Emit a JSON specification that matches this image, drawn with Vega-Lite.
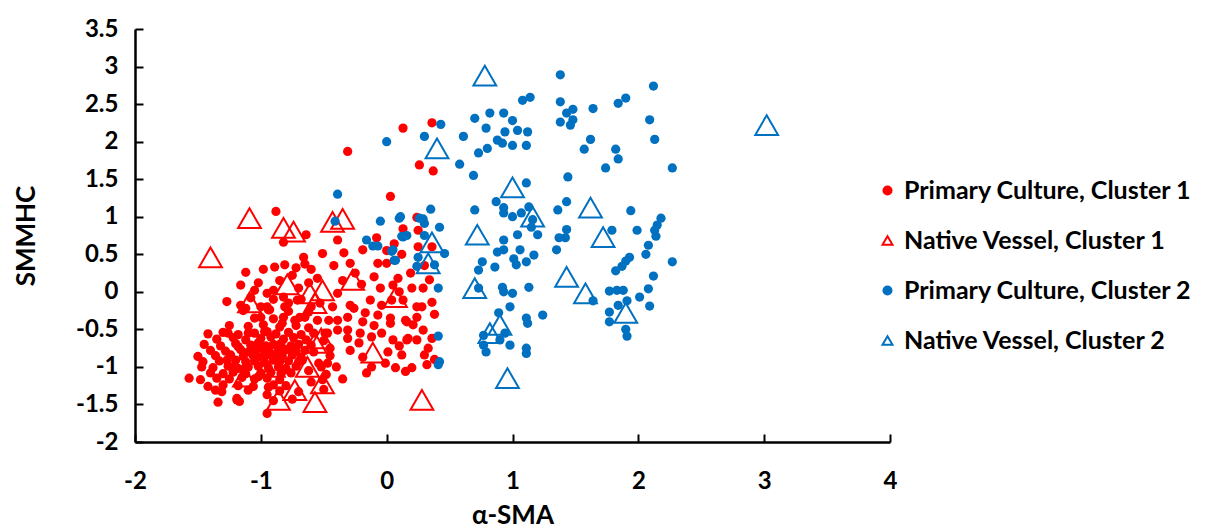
{"$schema":"https://vega.github.io/schema/vega-lite/v6.json","width":755,"height":413,"autosize":{"type":"none"},"padding":{"left":135,"top":29,"right":327,"bottom":87},"background":"white","config":{"view":{"stroke":null},"font":"Lato"},
"data":{"values":[
{"x":-1.25,"y":-0.45,"g":"P1"},{"x":-1.1,"y":-0.46,"g":"P1"},{"x":-0.98,"y":-0.44,"g":"P1"},{"x":-0.85,"y":-0.47,"g":"P1"},{"x":-0.72,"y":-0.45,"g":"P1"},{"x":-0.62,"y":-0.48,"g":"P1"},
{"x":-1.42,"y":-0.56,"g":"P1"},{"x":-1.3,"y":-0.54,"g":"P1"},{"x":-1.18,"y":-0.57,"g":"P1"},{"x":-1.05,"y":-0.55,"g":"P1"},{"x":-0.95,"y":-0.53,"g":"P1"},{"x":-0.88,"y":-0.56,"g":"P1"},{"x":-0.78,"y":-0.54,"g":"P1"},{"x":-0.68,"y":-0.57,"g":"P1"},{"x":-0.58,"y":-0.55,"g":"P1"},
{"x":-1.35,"y":-0.63,"g":"P1"},{"x":-1.22,"y":-0.61,"g":"P1"},{"x":-1.12,"y":-0.64,"g":"P1"},{"x":-1.0,"y":-0.62,"g":"P1"},{"x":-0.92,"y":-0.6,"g":"P1"},{"x":-0.82,"y":-0.63,"g":"P1"},{"x":-0.74,"y":-0.61,"g":"P1"},{"x":-0.64,"y":-0.64,"g":"P1"},
{"x":-1.45,"y":-0.7,"g":"P1"},{"x":-1.32,"y":-0.72,"g":"P1"},{"x":-1.2,"y":-0.69,"g":"P1"},{"x":-1.08,"y":-0.71,"g":"P1"},{"x":-1.02,"y":-0.68,"g":"P1"},{"x":-0.96,"y":-0.72,"g":"P1"},{"x":-0.9,"y":-0.7,"g":"P1"},{"x":-0.84,"y":-0.69,"g":"P1"},{"x":-0.76,"y":-0.72,"g":"P1"},{"x":-0.7,"y":-0.7,"g":"P1"},{"x":-0.6,"y":-0.71,"g":"P1"},
{"x":-1.4,"y":-0.78,"g":"P1"},{"x":-1.28,"y":-0.79,"g":"P1"},{"x":-1.16,"y":-0.77,"g":"P1"},{"x":-1.1,"y":-0.8,"g":"P1"},{"x":-1.04,"y":-0.78,"g":"P1"},{"x":-0.98,"y":-0.76,"g":"P1"},{"x":-0.93,"y":-0.8,"g":"P1"},{"x":-0.86,"y":-0.78,"g":"P1"},{"x":-0.8,"y":-0.77,"g":"P1"},{"x":-0.72,"y":-0.79,"g":"P1"},{"x":-0.65,"y":-0.78,"g":"P1"},
{"x":-1.5,"y":-0.86,"g":"P1"},{"x":-1.36,"y":-0.85,"g":"P1"},{"x":-1.24,"y":-0.84,"g":"P1"},{"x":-1.14,"y":-0.86,"g":"P1"},{"x":-1.06,"y":-0.85,"g":"P1"},{"x":-1.0,"y":-0.87,"g":"P1"},{"x":-0.95,"y":-0.84,"g":"P1"},{"x":-0.88,"y":-0.86,"g":"P1"},{"x":-0.83,"y":-0.85,"g":"P1"},{"x":-0.75,"y":-0.84,"g":"P1"},{"x":-0.68,"y":-0.87,"g":"P1"},
{"x":-1.46,"y":-0.93,"g":"P1"},{"x":-1.33,"y":-0.92,"g":"P1"},{"x":-1.2,"y":-0.91,"g":"P1"},{"x":-1.12,"y":-0.93,"g":"P1"},{"x":-1.05,"y":-0.92,"g":"P1"},{"x":-0.97,"y":-0.94,"g":"P1"},{"x":-0.9,"y":-0.91,"g":"P1"},{"x":-0.85,"y":-0.93,"g":"P1"},{"x":-0.78,"y":-0.92,"g":"P1"},{"x":-0.7,"y":-0.93,"g":"P1"},
{"x":-1.47,"y":-1.0,"g":"P1"},{"x":-1.38,"y":-1.01,"g":"P1"},{"x":-1.26,"y":-0.99,"g":"P1"},{"x":-1.18,"y":-1.02,"g":"P1"},{"x":-1.1,"y":-1.0,"g":"P1"},{"x":-1.02,"y":-0.99,"g":"P1"},{"x":-0.94,"y":-1.01,"g":"P1"},{"x":-0.86,"y":-1.0,"g":"P1"},{"x":-0.8,"y":-1.02,"g":"P1"},{"x":-0.72,"y":-0.99,"g":"P1"},
{"x":-1.4,"y":-1.08,"g":"P1"},{"x":-1.3,"y":-1.09,"g":"P1"},{"x":-1.22,"y":-1.07,"g":"P1"},{"x":-1.12,"y":-1.09,"g":"P1"},{"x":-1.0,"y":-1.08,"g":"P1"},{"x":-0.92,"y":-1.07,"g":"P1"},{"x":-0.84,"y":-1.09,"g":"P1"},{"x":-0.76,"y":-1.08,"g":"P1"},
{"x":-1.57,"y":-1.15,"g":"P1"},{"x":-1.48,"y":-1.17,"g":"P1"},{"x":-1.35,"y":-1.15,"g":"P1"},{"x":-1.25,"y":-1.16,"g":"P1"},{"x":-1.15,"y":-1.14,"g":"P1"},{"x":-1.05,"y":-1.16,"g":"P1"},{"x":-0.95,"y":-1.15,"g":"P1"},{"x":-0.85,"y":-1.17,"g":"P1"},
{"x":-1.42,"y":-1.26,"g":"P1"},{"x":-1.3,"y":-1.24,"g":"P1"},{"x":-1.18,"y":-1.25,"g":"P1"},{"x":-1.06,"y":-1.26,"g":"P1"},{"x":-0.9,"y":-1.24,"g":"P1"},{"x":-0.8,"y":-1.25,"g":"P1"},
{"x":-1.36,"y":-1.31,"g":"P1"},{"x":-1.31,"y":-1.33,"g":"P1"},{"x":-1.1,"y":-1.31,"g":"P1"},{"x":-0.95,"y":-1.37,"g":"P1"},{"x":-0.85,"y":-1.32,"g":"P1"},{"x":-0.7,"y":-1.33,"g":"P1"},
{"x":-1.34,"y":-1.47,"g":"P1"},{"x":-1.19,"y":-1.44,"g":"P1"},{"x":-1.17,"y":-1.46,"g":"P1"},{"x":-0.9,"y":-1.45,"g":"P1"},{"x":-0.75,"y":-1.43,"g":"P1"},{"x":-0.95,"y":-1.62,"g":"P1"},
{"x":-1.05,"y":-0.35,"g":"P1"},{"x":-0.9,"y":-0.36,"g":"P1"},{"x":-0.65,"y":-0.34,"g":"P1"},{"x":-1.14,"y":-0.25,"g":"P1"},{"x":-0.93,"y":-0.24,"g":"P1"},{"x":-0.78,"y":-0.26,"g":"P1"},
{"x":-1.27,"y":-0.13,"g":"P1"},{"x":-1.16,"y":0.09,"g":"P1"},{"x":-1.16,"y":-0.18,"g":"P1"},{"x":-1.12,"y":0.26,"g":"P1"},{"x":-1.02,"y":0.12,"g":"P1"},{"x":-1.05,"y":0.02,"g":"P1"},{"x":-0.95,"y":-0.02,"g":"P1"},{"x":-0.89,"y":0.33,"g":"P1"},{"x":-0.81,"y":0.36,"g":"P1"},{"x":-0.66,"y":0.46,"g":"P1"},{"x":-0.51,"y":0.51,"g":"P1"},{"x":-0.64,"y":0.76,"g":"P1"},{"x":-0.82,"y":0.66,"g":"P1"},{"x":-0.88,"y":1.07,"g":"P1"},{"x":-0.75,"y":0.22,"g":"P1"},{"x":-0.7,"y":0.05,"g":"P1"},{"x":-0.85,"y":0.15,"g":"P1"},{"x":-0.6,"y":0.3,"g":"P1"},{"x":-0.55,"y":0.18,"g":"P1"},{"x":-0.68,"y":-0.1,"g":"P1"},{"x":-0.78,"y":-0.15,"g":"P1"},{"x":-0.9,"y":-0.1,"g":"P1"},{"x":-1.0,"y":-0.2,"g":"P1"},{"x":-0.6,"y":-0.2,"g":"P1"},{"x":-0.72,"y":0.32,"g":"P1"},{"x":-0.62,"y":0.12,"g":"P1"},{"x":-1.08,"y":-0.08,"g":"P1"},{"x":-0.98,"y":0.3,"g":"P1"},
{"x":-0.39,"y":0.69,"g":"P1"},{"x":-0.65,"y":0.37,"g":"P1"},{"x":-0.34,"y":0.52,"g":"P1"},{"x":-0.29,"y":0.38,"g":"P1"},{"x":-0.19,"y":0.56,"g":"P1"},{"x":-0.08,"y":0.72,"g":"P1"},{"x":-0.07,"y":0.38,"g":"P1"},{"x":0.0,"y":0.38,"g":"P1"},{"x":0.06,"y":0.64,"g":"P1"},{"x":0.13,"y":0.84,"g":"P1"},{"x":0.24,"y":0.99,"g":"P1"},{"x":0.25,"y":0.82,"g":"P1"},{"x":0.36,"y":0.6,"g":"P1"},{"x":0.25,"y":0.6,"g":"P1"},{"x":0.19,"y":0.25,"g":"P1"},{"x":0.09,"y":0.18,"g":"P1"},{"x":0.05,"y":0.09,"g":"P1"},{"x":0.34,"y":0.16,"g":"P1"},{"x":0.36,"y":-0.14,"g":"P1"},{"x":0.29,"y":0.05,"g":"P1"},{"x":0.2,"y":0.05,"g":"P1"},{"x":0.13,"y":-0.11,"g":"P1"},{"x":0.04,"y":-0.11,"g":"P1"},{"x":-0.04,"y":-0.18,"g":"P1"},{"x":-0.13,"y":-0.11,"g":"P1"},{"x":-0.17,"y":-0.28,"g":"P1"},{"x":-0.29,"y":-0.18,"g":"P1"},{"x":-0.39,"y":-0.02,"g":"P1"},{"x":-0.43,"y":-0.2,"g":"P1"},{"x":-0.53,"y":-0.15,"g":"P1"},{"x":-0.62,"y":-0.27,"g":"P1"},{"x":-0.71,"y":-0.11,"g":"P1"},{"x":-0.82,"y":-0.07,"g":"P1"},{"x":-0.9,"y":0.02,"g":"P1"},{"x":-0.95,"y":-0.2,"g":"P1"},{"x":-1.0,"y":-0.34,"g":"P1"},{"x":-0.82,"y":-0.34,"g":"P1"},{"x":-0.69,"y":-0.34,"g":"P1"},{"x":-0.55,"y":-0.38,"g":"P1"},{"x":-0.39,"y":-0.38,"g":"P1"},{"x":-0.31,"y":-0.34,"g":"P1"},{"x":-0.19,"y":-0.4,"g":"P1"},{"x":-0.07,"y":-0.31,"g":"P1"},{"x":0.03,"y":-0.35,"g":"P1"},{"x":0.16,"y":-0.4,"g":"P1"},{"x":0.24,"y":-0.34,"g":"P1"},{"x":0.36,"y":-0.62,"g":"P1"},{"x":0.29,"y":-0.51,"g":"P1"},{"x":0.16,"y":-0.64,"g":"P1"},{"x":0.05,"y":-0.64,"g":"P1"},{"x":-0.04,"y":-0.55,"g":"P1"},{"x":-0.12,"y":-0.6,"g":"P1"},{"x":-0.21,"y":-0.55,"g":"P1"},{"x":-0.31,"y":-0.51,"g":"P1"},{"x":-0.39,"y":-0.51,"g":"P1"},{"x":-0.47,"y":-0.55,"g":"P1"},
{"x":-0.26,"y":-0.22,"g":"P1"},{"x":0.03,"y":-0.42,"g":"P1"},{"x":0.15,"y":-0.38,"g":"P1"},{"x":0.21,"y":-0.44,"g":"P1"},{"x":0.24,"y":-0.2,"g":"P1"},{"x":0.17,"y":-0.62,"g":"P1"},{"x":0.24,"y":-0.64,"g":"P1"},{"x":0.33,"y":-0.75,"g":"P1"},{"x":0.3,"y":-0.84,"g":"P1"},{"x":0.32,"y":-0.97,"g":"P1"},{"x":0.2,"y":-1.01,"g":"P1"},{"x":0.15,"y":-1.06,"g":"P1"},{"x":0.07,"y":-1.01,"g":"P1"},{"x":-0.01,"y":-0.95,"g":"P1"},{"x":0.01,"y":-0.8,"g":"P1"},{"x":0.12,"y":-0.84,"g":"P1"},{"x":-0.12,"y":-1.0,"g":"P1"},{"x":-0.16,"y":-1.08,"g":"P1"},{"x":-0.19,"y":-0.87,"g":"P1"},{"x":-0.29,"y":-0.78,"g":"P1"},{"x":-0.31,"y":-0.62,"g":"P1"},{"x":-0.46,"y":-0.38,"g":"P1"},{"x":-0.49,"y":-0.55,"g":"P1"},{"x":-0.47,"y":-0.95,"g":"P1"},{"x":-0.54,"y":-0.95,"g":"P1"},{"x":-0.51,"y":-1.17,"g":"P1"},{"x":-0.67,"y":-0.91,"g":"P1"},{"x":-0.75,"y":-0.78,"g":"P1"},{"x":-0.87,"y":-0.88,"g":"P1"},{"x":-0.81,"y":-1.04,"g":"P1"},{"x":-0.94,"y":-1.27,"g":"P1"},{"x":-1.02,"y":-1.13,"g":"P1"},{"x":-1.12,"y":-1.0,"g":"P1"},{"x":-1.23,"y":-1.0,"g":"P1"},{"x":-1.18,"y":-0.73,"g":"P1"},{"x":-1.1,"y":-0.55,"g":"P1"},{"x":-0.97,"y":-0.53,"g":"P1"},{"x":-0.83,"y":-0.42,"g":"P1"},{"x":-0.73,"y":-0.38,"g":"P1"},{"x":-0.81,"y":-0.2,"g":"P1"},{"x":-0.94,"y":-0.24,"g":"P1"},{"x":-1.12,"y":-0.22,"g":"P1"},{"x":-1.26,"y":-0.55,"g":"P1"},{"x":-1.27,"y":-0.91,"g":"P1"},{"x":-0.35,"y":-1.16,"g":"P1"},{"x":-1.19,"y":-1.42,"g":"P1"},
{"x":-0.45,"y":-0.75,"g":"P1"},{"x":-0.4,"y":-1.0,"g":"P1"},{"x":-0.5,"y":-0.65,"g":"P1"},{"x":-0.45,"y":-0.85,"g":"P1"},{"x":-0.52,"y":-1.0,"g":"P1"},{"x":-0.48,"y":-1.1,"g":"P1"},{"x":-0.6,"y":-1.2,"g":"P1"},{"x":-0.5,"y":-1.3,"g":"P1"},{"x":-0.62,"y":-1.05,"g":"P1"},{"x":-0.58,"y":-0.8,"g":"P1"},{"x":-0.05,"y":0.05,"g":"P1"},{"x":0.1,"y":0.0,"g":"P1"},{"x":-0.2,"y":0.1,"g":"P1"},{"x":-0.1,"y":0.2,"g":"P1"},{"x":0.0,"y":0.55,"g":"P1"},{"x":-0.25,"y":0.25,"g":"P1"},{"x":-0.35,"y":0.15,"g":"P1"},{"x":-0.42,"y":0.35,"g":"P1"},{"x":0.12,"y":0.5,"g":"P1"},{"x":0.3,"y":0.35,"g":"P1"},{"x":0.28,"y":-0.2,"g":"P1"},{"x":0.38,"y":-0.3,"g":"P1"},{"x":0.38,"y":-0.9,"g":"P1"},{"x":-0.22,"y":-0.68,"g":"P1"},{"x":0.1,"y":-0.72,"g":"P1"},{"x":-0.1,"y":-0.45,"g":"P1"},
{"x":0.36,"y":2.25,"g":"P1"},{"x":0.13,"y":2.18,"g":"P1"},{"x":-0.31,"y":1.87,"g":"P1"},{"x":0.26,"y":1.69,"g":"P1"},{"x":0.37,"y":1.61,"g":"P1"},{"x":0.03,"y":1.27,"g":"P1"},
{"x":-1.4,"y":0.46,"g":"N1"},{"x":-1.09,"y":0.98,"g":"N1"},{"x":-0.82,"y":0.85,"g":"N1"},{"x":-0.74,"y":0.8,"g":"N1"},{"x":-0.43,"y":0.93,"g":"N1"},{"x":-0.35,"y":0.97,"g":"N1"},{"x":-0.27,"y":0.16,"g":"N1"},{"x":-0.79,"y":0.1,"g":"N1"},{"x":-0.61,"y":-0.02,"g":"N1"},{"x":-0.51,"y":0.02,"g":"N1"},{"x":-0.57,"y":-0.15,"g":"N1"},{"x":0.07,"y":-0.07,"g":"N1"},{"x":-1.09,"y":-0.14,"g":"N1"},{"x":-0.57,"y":-0.68,"g":"N1"},{"x":-0.52,"y":-0.62,"g":"N1"},{"x":-0.11,"y":-0.81,"g":"N1"},{"x":-0.63,"y":-1.0,"g":"N1"},{"x":-0.9,"y":-1.0,"g":"N1"},{"x":-1.13,"y":-1.13,"g":"N1"},{"x":-0.73,"y":-1.31,"g":"N1"},{"x":-0.51,"y":-1.22,"g":"N1"},{"x":-0.86,"y":-1.44,"g":"N1"},{"x":-0.57,"y":-1.47,"g":"N1"},{"x":0.28,"y":-1.44,"g":"N1"},
{"x":0.43,"y":2.23,"g":"P2"},{"x":0.3,"y":2.07,"g":"P2"},{"x":0.0,"y":2.0,"g":"P2"},{"x":-0.39,"y":1.3,"g":"P2"},{"x":-0.41,"y":0.94,"g":"P2"},{"x":0.35,"y":1.1,"g":"P2"},{"x":-0.05,"y":0.94,"g":"P2"},{"x":0.1,"y":0.98,"g":"P2"},{"x":0.26,"y":0.98,"g":"P2"},{"x":0.3,"y":0.91,"g":"P2"},{"x":0.42,"y":0.86,"g":"P2"},{"x":0.3,"y":0.75,"g":"P2"},{"x":0.13,"y":0.73,"g":"P2"},{"x":0.16,"y":0.75,"g":"P2"},{"x":-0.16,"y":0.69,"g":"P2"},{"x":-0.11,"y":0.61,"g":"P2"},{"x":-0.07,"y":0.61,"g":"P2"},{"x":0.04,"y":0.54,"g":"P2"},{"x":0.06,"y":0.42,"g":"P2"},{"x":0.25,"y":0.46,"g":"P2"},{"x":0.24,"y":0.34,"g":"P2"},{"x":0.38,"y":0.36,"g":"P2"},{"x":0.46,"y":0.51,"g":"P2"},{"x":0.41,"y":0.05,"g":"P2"},{"x":0.41,"y":-0.59,"g":"P2"},
{"x":1.38,"y":2.89,"g":"P2"},{"x":1.14,"y":2.59,"g":"P2"},{"x":1.08,"y":2.55,"g":"P2"},{"x":0.82,"y":2.38,"g":"P2"},{"x":0.93,"y":2.38,"g":"P2"},{"x":0.7,"y":2.31,"g":"P2"},{"x":1.0,"y":2.28,"g":"P2"},{"x":0.79,"y":2.18,"g":"P2"},{"x":0.94,"y":2.13,"g":"P2"},{"x":1.04,"y":2.15,"g":"P2"},{"x":1.12,"y":2.13,"g":"P2"},{"x":0.88,"y":2.02,"g":"P2"},{"x":0.92,"y":1.98,"g":"P2"},{"x":1.0,"y":1.95,"g":"P2"},{"x":1.11,"y":1.95,"g":"P2"},{"x":0.8,"y":1.91,"g":"P2"},{"x":0.73,"y":1.85,"g":"P2"},{"x":0.61,"y":2.07,"g":"P2"},{"x":0.58,"y":1.7,"g":"P2"},{"x":0.69,"y":1.55,"g":"P2"},{"x":1.44,"y":1.53,"g":"P2"},{"x":1.11,"y":1.45,"g":"P2"},{"x":0.87,"y":1.2,"g":"P2"},{"x":0.93,"y":1.12,"g":"P2"},{"x":0.93,"y":1.05,"g":"P2"},{"x":1.0,"y":1.0,"g":"P2"},{"x":1.07,"y":1.05,"g":"P2"},{"x":1.13,"y":1.13,"g":"P2"},{"x":0.7,"y":1.09,"g":"P2"},{"x":1.16,"y":0.96,"g":"P2"},{"x":1.15,"y":0.86,"g":"P2"},{"x":1.2,"y":0.76,"g":"P2"},{"x":1.43,"y":1.2,"g":"P2"},{"x":1.36,"y":1.09,"g":"P2"},{"x":1.43,"y":0.83,"g":"P2"},{"x":1.42,"y":0.72,"g":"P2"},{"x":1.37,"y":0.72,"g":"P2"},{"x":1.35,"y":0.56,"g":"P2"},{"x":1.04,"y":0.76,"g":"P2"},{"x":0.93,"y":0.69,"g":"P2"},{"x":0.88,"y":0.53,"g":"P2"},{"x":0.93,"y":0.56,"g":"P2"},{"x":1.06,"y":0.56,"g":"P2"},{"x":1.01,"y":0.44,"g":"P2"},{"x":1.03,"y":0.36,"g":"P2"},{"x":1.11,"y":0.4,"g":"P2"},{"x":1.17,"y":0.49,"g":"P2"},{"x":0.86,"y":0.33,"g":"P2"},{"x":0.76,"y":0.4,"g":"P2"},{"x":0.73,"y":0.29,"g":"P2"},{"x":0.73,"y":0.05,"g":"P2"},{"x":0.92,"y":0.06,"g":"P2"},{"x":0.93,"y":0.0,"g":"P2"},{"x":1.0,"y":-0.02,"g":"P2"},{"x":1.13,"y":0.06,"g":"P2"},{"x":0.98,"y":-0.2,"g":"P2"},{"x":0.89,"y":-0.28,"g":"P2"},{"x":1.24,"y":-0.31,"g":"P2"},{"x":1.11,"y":-0.35,"g":"P2"},{"x":1.12,"y":-0.42,"g":"P2"},{"x":0.77,"y":-0.58,"g":"P2"},{"x":0.94,"y":-0.55,"g":"P2"},{"x":0.9,"y":-0.64,"g":"P2"},{"x":0.77,"y":-0.71,"g":"P2"},{"x":0.98,"y":-0.71,"g":"P2"},{"x":0.79,"y":-0.8,"g":"P2"},{"x":1.11,"y":-0.75,"g":"P2"},{"x":1.11,"y":-0.82,"g":"P2"},{"x":0.42,"y":-0.93,"g":"P2"},{"x":0.41,"y":-0.97,"g":"P2"},{"x":0.29,"y":0.97,"g":"P2"},{"x":0.11,"y":1.0,"g":"P2"},{"x":0.12,"y":0.74,"g":"P2"},{"x":0.05,"y":0.56,"g":"P2"},{"x":0.07,"y":0.42,"g":"P2"},
{"x":2.12,"y":2.74,"g":"P2"},{"x":1.38,"y":2.53,"g":"P2"},{"x":1.9,"y":2.58,"g":"P2"},{"x":1.84,"y":2.51,"g":"P2"},{"x":1.64,"y":2.44,"g":"P2"},{"x":1.48,"y":2.43,"g":"P2"},{"x":1.43,"y":2.38,"g":"P2"},{"x":1.48,"y":2.29,"g":"P2"},{"x":1.46,"y":2.22,"g":"P2"},{"x":1.38,"y":2.26,"g":"P2"},{"x":2.09,"y":2.29,"g":"P2"},{"x":2.13,"y":2.03,"g":"P2"},{"x":1.62,"y":2.03,"g":"P2"},{"x":1.57,"y":1.9,"g":"P2"},{"x":1.82,"y":1.9,"g":"P2"},{"x":1.84,"y":1.77,"g":"P2"},{"x":1.74,"y":1.65,"g":"P2"},{"x":2.27,"y":1.65,"g":"P2"},{"x":1.94,"y":1.08,"g":"P2"},{"x":1.79,"y":0.82,"g":"P2"},{"x":1.99,"y":0.82,"g":"P2"},{"x":2.18,"y":0.98,"g":"P2"},{"x":2.15,"y":0.89,"g":"P2"},{"x":2.13,"y":0.82,"g":"P2"},{"x":2.14,"y":0.74,"g":"P2"},{"x":2.08,"y":0.62,"g":"P2"},{"x":2.06,"y":0.5,"g":"P2"},{"x":1.93,"y":0.46,"g":"P2"},{"x":1.9,"y":0.41,"g":"P2"},{"x":1.87,"y":0.34,"g":"P2"},{"x":1.82,"y":0.28,"g":"P2"},{"x":2.27,"y":0.4,"g":"P2"},{"x":2.12,"y":0.21,"g":"P2"},{"x":1.77,"y":0.01,"g":"P2"},{"x":1.83,"y":0.02,"g":"P2"},{"x":1.88,"y":0.02,"g":"P2"},{"x":2.08,"y":0.04,"g":"P2"},{"x":2.01,"y":-0.07,"g":"P2"},{"x":1.64,"y":-0.12,"g":"P2"},{"x":2.09,"y":-0.19,"g":"P2"},{"x":1.91,"y":-0.12,"g":"P2"},{"x":1.77,"y":-0.27,"g":"P2"},{"x":1.77,"y":-0.4,"g":"P2"},{"x":1.9,"y":-0.5,"g":"P2"},{"x":1.91,"y":-0.59,"g":"P2"},{"x":1.84,"y":-0.18,"g":"P2"},
{"x":0.78,"y":2.88,"g":"N2"},{"x":0.4,"y":1.91,"g":"N2"},{"x":1.0,"y":1.39,"g":"N2"},{"x":1.16,"y":1.0,"g":"N2"},{"x":0.72,"y":0.76,"g":"N2"},{"x":0.36,"y":0.66,"g":"N2"},{"x":0.33,"y":0.38,"g":"N2"},{"x":0.7,"y":0.05,"g":"N2"},{"x":0.82,"y":-0.55,"g":"N2"},{"x":0.9,"y":-0.44,"g":"N2"},{"x":0.96,"y":-1.15,"g":"N2"},{"x":1.43,"y":0.2,"g":"N2"},{"x":1.58,"y":-0.02,"g":"N2"},{"x":1.62,"y":1.12,"g":"N2"},{"x":1.72,"y":0.73,"g":"N2"},{"x":1.9,"y":-0.28,"g":"N2"},{"x":3.02,"y":2.22,"g":"N2"}
]},
"mark":{"type":"point","strokeWidth":2,"opacity":1},
"encoding":{
"x":{"field":"x","type":"quantitative","scale":{"domain":[-2,4],"nice":false,"zero":false},"axis":{"title":"α-SMA","values":[-2,-1,0,1,2,3,4],"labelExpr":"datum.value + ''","grid":false,"domainColor":"black","domainWidth":2.5,"tickColor":"black","tickWidth":2,"tickSize":-8,"labelFont":"Lato","labelFontSize":24,"labelFontWeight":"bold","labelColor":"black","labelPadding":35,"labelFlush":false,"labelOverlap":false,"titleFont":"Lato","titleFontSize":26,"titleFontWeight":"bold","titleColor":"black","titlePadding":9}},
"y":{"field":"y","type":"quantitative","scale":{"domain":[-2,3.5],"nice":false,"zero":false},"axis":{"title":"SMMHC","values":[-2,-1.5,-1,-0.5,0,0.5,1,1.5,2,2.5,3,3.5],"labelExpr":"datum.value + ''","grid":false,"domainColor":"black","domainWidth":2.5,"tickColor":"black","tickWidth":2,"tickSize":-8,"labelFont":"Lato","labelFontSize":24,"labelFontWeight":"bold","labelColor":"black","labelPadding":25,"labelFlush":false,"labelOverlap":false,"titleFont":"Lato","titleFontSize":26,"titleFontWeight":"bold","titleColor":"black","titlePadding":36}},
"fill":{"field":"g","type":"nominal","scale":{"domain":["P1","N1","P2","N2"],"range":["#FF0000","transparent","#0070C0","transparent"]},"legend":{"title":null,"orient":"none","legendX":740,"legendY":149,"rowPadding":24,"labelFont":"Lato","labelFontSize":25,"labelFontWeight":"bold","labelColor":"black","labelOffset":4,"labelLimit":400,"symbolStrokeWidth":2,"labelExpr":"datum.value=='P1'?'Primary Culture, Cluster 1':datum.value=='N1'?'Native Vessel, Cluster 1':datum.value=='P2'?'Primary Culture, Cluster 2':'Native Vessel, Cluster 2'","encode":{"symbols":{"update":{"size":{"signal":"datum.value=='N1'||datum.value=='N2'?220:40"}}}}}},
"stroke":{"field":"g","type":"nominal","scale":{"domain":["P1","N1","P2","N2"],"range":["transparent","#FF0000","transparent","#0070C0"]},"legend":{"title":null,"orient":"none","legendX":740,"legendY":149,"rowPadding":24,"labelFont":"Lato","labelFontSize":25,"labelFontWeight":"bold","labelColor":"black","labelOffset":4,"labelLimit":400,"symbolStrokeWidth":2,"labelExpr":"datum.value=='P1'?'Primary Culture, Cluster 1':datum.value=='N1'?'Native Vessel, Cluster 1':datum.value=='P2'?'Primary Culture, Cluster 2':'Native Vessel, Cluster 2'","encode":{"symbols":{"update":{"size":{"signal":"datum.value=='N1'||datum.value=='N2'?220:40"}}}}}},
"shape":{"field":"g","type":"nominal","scale":{"domain":["P1","N1","P2","N2"],"range":["circle","triangle-up","circle","triangle-up"]},"legend":{"title":null,"orient":"none","legendX":740,"legendY":149,"rowPadding":24,"labelFont":"Lato","labelFontSize":25,"labelFontWeight":"bold","labelColor":"black","labelOffset":4,"labelLimit":400,"symbolStrokeWidth":2,"labelExpr":"datum.value=='P1'?'Primary Culture, Cluster 1':datum.value=='N1'?'Native Vessel, Cluster 1':datum.value=='P2'?'Primary Culture, Cluster 2':'Native Vessel, Cluster 2'","encode":{"symbols":{"update":{"size":{"signal":"datum.value=='N1'||datum.value=='N2'?220:40"}}}}}},
"size":{"condition":{"test":"datum.g=='N1'||datum.g=='N2'","value":520},"value":85}
}}
